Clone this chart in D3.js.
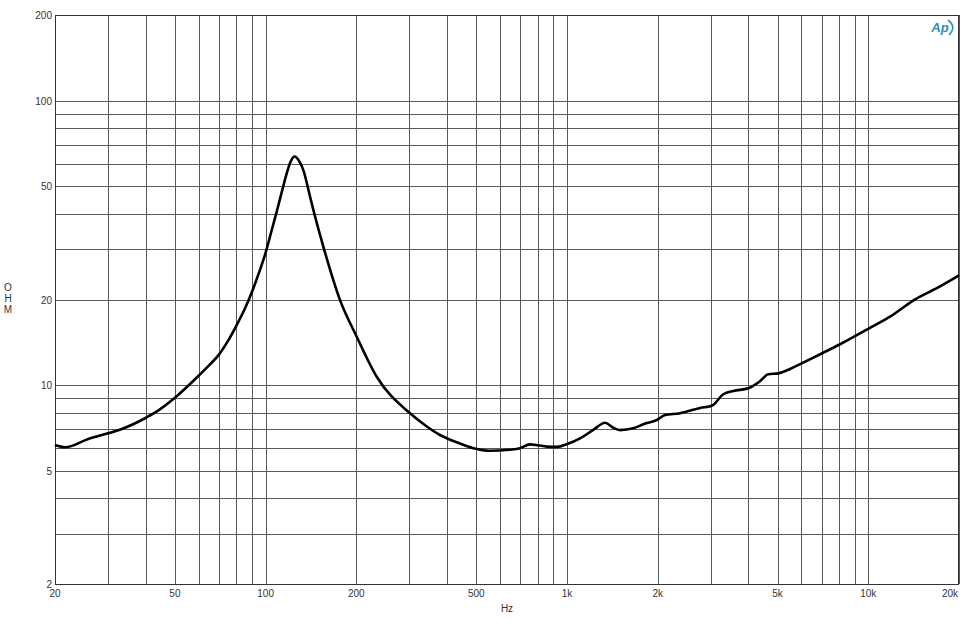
<!DOCTYPE html>
<html><head><meta charset="utf-8">
<script src="https://cdn.jsdelivr.net/npm/d3@7"></script>
<style>body{margin:0;background:#fff}svg{display:block}</style>
</head><body>
<svg id="c" width="960" height="633"></svg>
<script>
const freq = [20, 21.6, 25.8, 30, 33.3, 39.8, 42.9, 50, 60, 65, 70, 75, 80, 85, 90, 95, 100, 104.8, 108.9, 113, 117.5, 121, 125, 129, 133.4, 140.4, 144, 150, 155.4, 176.6, 200.6, 233.8, 301.5, 340, 379, 430, 489, 555, 644, 698, 754, 800, 857, 930, 998, 1105, 1220, 1338, 1420, 1500, 1661, 1800, 1987, 2116, 2374, 2467, 2765, 3024, 3304, 3568, 4000, 4360, 4660, 5030, 5500, 6010, 7090, 8060, 10060, 11810, 14300, 17000, 20000];
const ohm  = [6.16, 6.05, 6.47, 6.77, 7.01, 7.65, 8.0, 9.03, 10.8, 11.75, 12.8, 14.3, 16.2, 18.4, 21.2, 24.8, 29.2, 35.1, 40.8, 47.5, 55.5, 61, 63.6, 61.5, 57, 46, 41.3, 35.1, 30.7, 19.9, 14.8, 10.7, 7.96, 7.2, 6.68, 6.3, 6.0, 5.88, 5.93, 6.0, 6.19, 6.15, 6.08, 6.07, 6.2, 6.5, 6.95, 7.38, 7.1, 6.95, 7.05, 7.3, 7.54, 7.85, 7.97, 8.05, 8.31, 8.46, 9.29, 9.54, 9.75, 10.3, 10.92, 11.0, 11.4, 11.93, 13.0, 13.92, 15.84, 17.4, 20.03, 22.0, 24.3];
const xTickLabels = [[20,"20"],[50,"50"],[100,"100"],[200,"200"],[500,"500"],[1000,"1k"],[2000,"2k"],[5000,"5k"],[10000,"10k"],[20000,"20k"]];
const yTickLabels = [2,5,10,20,50,100,200];

const L=55, R=959, T=15, B=584;
const x = d3.scaleLog().domain([20,20000]).range([L,R]);
const y = d3.scaleLog().domain([2,200]).range([B,T]);
const svg = d3.select("#c");

const xGrid=[], yGrid=[];
for (let d=10; d<=10000; d*=10) for (let m=1; m<=9; m++){ const v=d*m; if(v>=20 && v<=20000) xGrid.push(v); }
xGrid.push(20000);
for (let d=1; d<=100; d*=10) for (let m=1; m<=9; m++){ const v=d*m; if(v>=2 && v<=200) yGrid.push(v); }
yGrid.push(200);

const g = svg.append("g");
g.selectAll(".vx").data(xGrid).join("line")
  .attr("x1",d=>Math.round(x(d))+0.5).attr("x2",d=>Math.round(x(d))+0.5)
  .attr("y1",T).attr("y2",B).attr("stroke","#5a5a5a").attr("stroke-width",1);
g.selectAll(".hy").data(yGrid).join("line")
  .attr("y1",d=>Math.round(y(d))+0.5).attr("y2",d=>Math.round(y(d))+0.5)
  .attr("x1",L).attr("x2",R).attr("stroke","#5a5a5a").attr("stroke-width",1);
g.append("rect").attr("x",L+0.5).attr("y",T+0.5).attr("width",R-L-1).attr("height",B-T)
  .attr("fill","none").attr("stroke","#333");

const font="Liberation Sans, Arial, sans-serif";
svg.selectAll(".xl").data(xTickLabels).join("text")
  .attr("x",d=>d[0]===20000 ? 958 : x(d[0])).attr("y",597)
  .attr("text-anchor",d=>d[0]===20000 ? "end" : "middle")
  .attr("font-family",font).attr("font-size",10).attr("fill","#333").text(d=>d[1]);
svg.selectAll(".yl").data(yTickLabels).join("text")
  .attr("x",52).attr("y",d=>y(d)+4).attr("text-anchor","end")
  .attr("font-family",font).attr("font-size",10).attr("fill","#333").text(d=>d);
svg.append("text").attr("x",507).attr("y",612).attr("text-anchor","middle")
  .attr("font-family",font).attr("font-size",10).attr("fill","#333").text("Hz");
["O","H","M"].forEach((c,i)=>svg.append("text").attr("x",8).attr("y",291+i*11)
  .attr("text-anchor","middle").attr("font-family",font).attr("font-size",10).attr("fill","#333").text(c));

const pts = freq.map((f,i)=>[f,ohm[i]]);
svg.append("path").datum(pts)
  .attr("d", d3.line().x(d=>x(d[0])).y(d=>y(d[1])).curve(d3.curveMonotoneX))
  .attr("fill","none").attr("stroke","#000").attr("stroke-width",2.6).attr("stroke-linejoin","round");

// Ap logo
const logo = svg.append("g");
logo.append("text").attr("x",940).attr("y",32).attr("text-anchor","middle")
  .attr("font-family",font).attr("font-style","italic").attr("font-weight","bold")
  .attr("font-size",13).attr("fill","#2a8fc0").text("Ap");
logo.append("path").attr("d","M948,20 Q957,27 949,35").attr("fill","none").attr("stroke","#2a8fc0").attr("stroke-width",1.6);
</script>
</body></html>
